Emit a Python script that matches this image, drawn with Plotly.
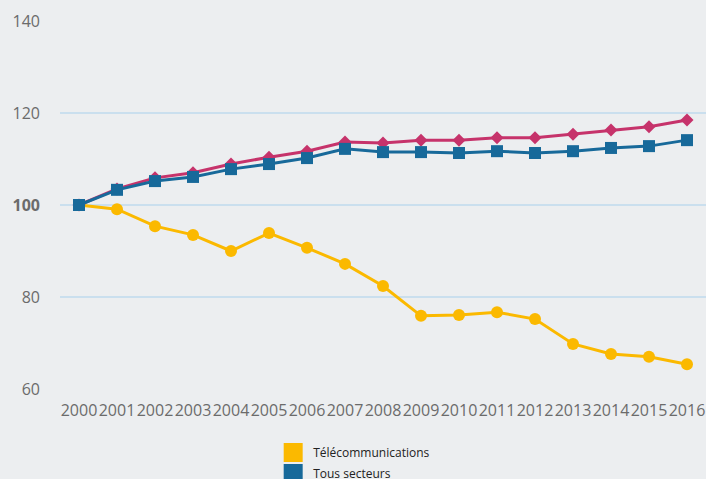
import plotly.graph_objects as go

years = [str(y) for y in range(2000, 2017)]
telecom = [100, 99.1, 95.4, 93.5, 90.0, 93.9, 90.7, 87.2, 82.4, 75.9, 76.1, 76.7, 75.2, 69.8, 67.6, 67.0, 65.4]
pink_series = [100, 103.5, 105.9, 107.0, 108.9, 110.4, 111.7, 113.7, 113.5, 114.1, 114.1, 114.6, 114.6, 115.4, 116.3, 117.0, 118.5]
tous = [100, 103.3, 105.2, 106.1, 107.8, 108.9, 110.2, 112.2, 111.5, 111.5, 111.3, 111.7, 111.3, 111.7, 112.4, 112.8, 114.1]
ytick_vals = [60, 80, 100, 120, 140]
ytick_text = ["60", "80", "<b>100</b>", "120", "140"]

YELLOW = "#fbb900"
BLUE = "#17699a"
PINK = "#c6336b"
BG = "#eceef0"

fig = go.Figure()
fig.add_trace(go.Scatter(x=years, y=telecom, mode="lines+markers", showlegend=False,
                         line=dict(color=YELLOW, width=3), marker=dict(symbol="circle", size=12, color=YELLOW)))
fig.add_trace(go.Scatter(x=years, y=pink_series, mode="lines+markers", showlegend=False,
                         line=dict(color=PINK, width=3), marker=dict(symbol="diamond", size=10, color=PINK)))
fig.add_trace(go.Scatter(x=years, y=tous, mode="lines+markers", showlegend=False,
                         line=dict(color=BLUE, width=3), marker=dict(symbol="square", size=12, color=BLUE)))

# legend swatches
fig.add_trace(go.Scatter(x=[None], y=[None], mode="markers", name="Télécommunications", legendgroup="a",
                         marker=dict(symbol="square", size=16, color=YELLOW, line=dict(color=YELLOW, width=3))))
fig.add_trace(go.Scatter(x=[None], y=[None], mode="markers", name="Tous secteurs", legendgroup="b",
                         marker=dict(symbol="square", size=16, color=BLUE, line=dict(color=BLUE, width=3))))

fig.add_hline(y=100, line=dict(color="#3a84aa", width=1.5), layer="below")

fig.update_layout(
    width=706, height=500,
    margin=dict(l=60, r=0, t=21, b=111),
    paper_bgcolor=BG, plot_bgcolor=BG,
    font=dict(family="Open Sans", color="#666666"),
    xaxis=dict(type="category", range=[-0.5, 16.5], showgrid=False, zeroline=False, automargin=False,
               showline=False, ticks="", tickangle=0, tickfont=dict(size=16, color="#6b6b6b"), ticklabelstandoff=10),
    yaxis=dict(range=[60, 140], tickvals=ytick_vals, ticktext=ytick_text, showgrid=True, automargin=False,
               gridcolor="#cadfee", gridwidth=1.5, zeroline=False, showline=False,
               ticks="", tickfont=dict(size=16, color="#6b6b6b"), ticklabelstandoff=19),
    legend=dict(x=0.330, y=-0.133, xanchor="left", yanchor="top", orientation="v",
                font=dict(size=12, color="#222222"), bgcolor="rgba(0,0,0,0)",
                tracegroupgap=2, itemsizing="trace"),
    hovermode=False,
)

fig.write_html("out.html", config={"displayModeBar": False},
               post_script="document.body.style.margin='0px';document.body.style.overflow='hidden';document.documentElement.style.overflow='hidden';")
